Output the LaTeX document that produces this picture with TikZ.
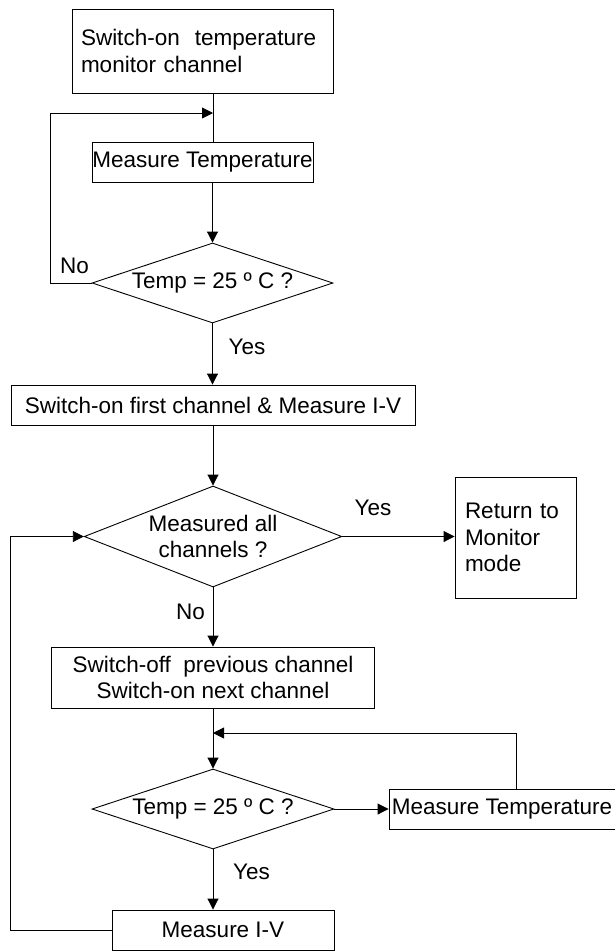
\documentclass[tikz,border=0pt]{standalone}
\usepackage{fontspec}
\setmainfont{Liberation Sans}
\usetikzlibrary{arrows.meta, shapes.geometric}

\begin{document}
\begin{tikzpicture}[x=1pt, y=-1pt, line width=0.9pt,
    every node/.style={font=\fontsize{22.5}{26.5}\selectfont, inner sep=0pt}]
  \tikzset{
    stepbox/.style={draw, rectangle, minimum height=40pt},
    decide/.style={draw, diamond, shape aspect=3, align=center},
    flow/.style={-{Triangle[length=11pt, width=11pt]}}
  }
  \useasboundingbox (0,0) rectangle (614,951);
  % boxes and decisions
  \node[stepbox, minimum width=261pt, minimum height=84pt, inner xsep=9pt,
        text width=243pt, align=left] (start) at (202.5,51)
        {Switch-on\ \ temperature\\monitor channel};
  \node[stepbox, minimum width=221pt] (meas1) at (202.5,162) {Measure Temperature};
  \node[decide, minimum width=241pt, minimum height=80pt] (dec1) at (212.5,283) {Temp = 25 º C ?};
  \node[stepbox, minimum width=404pt] (first) at (213,405) {Switch-on first channel \& Measure I-V};
  \node[decide, shape aspect=2.5, minimum width=257.5pt, minimum height=101pt] (dec2) at (213,536.5)
        {Measured all\\channels ?};
  \node[stepbox, minimum width=121pt, minimum height=121pt, inner xsep=10pt,
        text width=101pt, align=left] (ret) at (515.5,537.5) {Return to\\Monitor\\mode};
  \node[stepbox, minimum width=323pt, minimum height=61pt, align=center] (next) at (213,677.5)
        {Switch-off\ \ previous channel\\Switch-on next channel};
  \node[decide, minimum width=242pt, minimum height=80pt] (dec3) at (213,809) {Temp = 25 º C ?};
  \node[stepbox, minimum width=226pt] (meas2) at (502,809) {Measure Temperature};
  \node[stepbox, minimum width=222pt] (miv) at (223,930) {Measure I-V};
  % labels
  \node (no1) at (74.5,266) {No};
  \node (yes1) at (247,347) {Yes};
  \node (yes2) at (373,508) {Yes};
  \node (no2) at (190.5,612) {No};
  \node (yes3) at (251.5,872) {Yes};
  % connectors
  \coordinate (j1) at (213,113);
  \coordinate (j2) at (213,733);
  \draw (start.south -| j1) -- (meas1.north -| j1);
  \draw[flow] (meas1.south -| dec1.north) -- (dec1.north);
  \draw[flow] (dec1.west) -- ++(-41,0) |- (j1);
  \draw[flow] (dec1.south) -- (first.north -| dec1.south);
  \draw[flow] (first.south -| dec2.north) -- (dec2.north);
  \draw[flow] (dec2.east) -- (dec2.east -| ret.west);
  \draw[flow] (dec2.south) -- (next.north);
  \draw[flow] (next.south) -- (dec3.north);
  \draw[flow] (dec3.east) -- (meas2.west);
  \draw[flow] ([xshift=14pt]meas2.north) |- (j2);
  \draw[flow] (dec3.south) -- (miv.north -| dec3.south);
  \draw[flow] (miv.west) -- ++(-101,0) |- (dec2.west);
\end{tikzpicture}
\end{document}
